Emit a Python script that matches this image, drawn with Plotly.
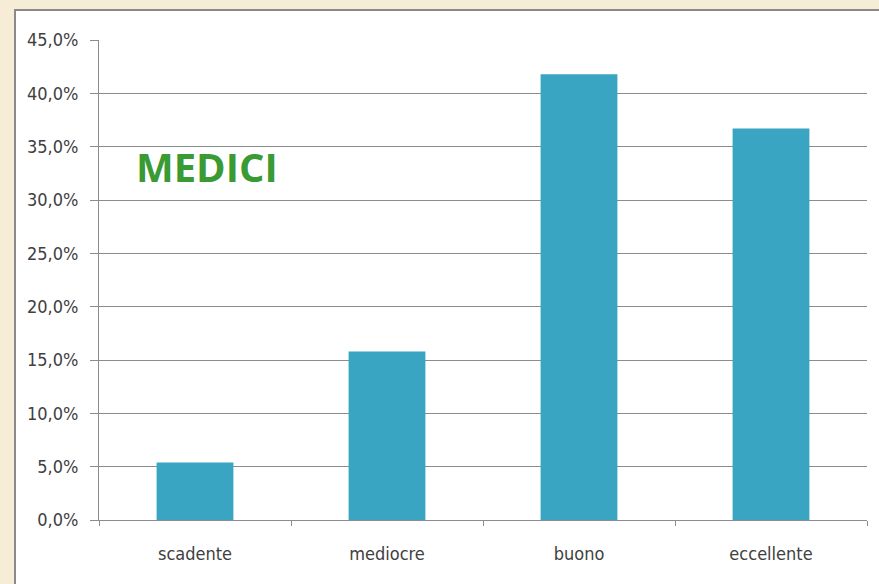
import plotly.graph_objects as go

categories = ["scadente", "mediocre", "buono", "eccellente"]
values = [0.054, 0.158, 0.418, 0.367]
y_ticks = [i * 0.05 for i in range(10)]

W, H = 879, 584
L, R, T, B = 99, 12, 40, 64
pw, ph = W - L - R, H - T - B

def px_x(p):
    return (p - L) / pw

def px_y(p):
    return (H - B - p) / ph

fig = go.Figure()
fig.add_trace(go.Bar(
    x=categories, y=values, width=0.4,
    marker=dict(color="#3aa4c3", line=dict(width=0)),
))

fig.update_layout(
    width=W, height=H,
    margin=dict(l=L, r=R, t=T, b=B, pad=0),
    paper_bgcolor="#f7ecd6",
    plot_bgcolor="rgba(0,0,0,0)",
    separators=",.",
    showlegend=False,
    font=dict(family="Liberation Sans Narrow, DejaVu Sans Condensed, sans-serif", size=18, color="#404040"),
    shapes=[dict(type="rect", xref="paper", yref="paper",
                 x0=px_x(15), x1=px_x(885), y0=px_y(590), y1=px_y(10),
                 fillcolor="white", line=dict(color="#8a8a8a", width=2), layer="below")],
    annotations=[dict(text="<b>MEDICI</b>", xref="paper", yref="paper",
                      x=px_x(207), y=px_y(167), xanchor="center", yanchor="middle",
                      showarrow=False,
                      font=dict(family="Open Sans, sans-serif", size=40, color="#3a9a34"))],
)
fig.update_yaxes(range=[0, 0.45], tickvals=y_ticks, tickformat=".1%",
                 showgrid=True, gridcolor="#8c8c8c", gridwidth=1,
                 showline=True, linecolor="#8c8c8c", linewidth=1,
                 ticks="outside", ticklen=8, tickcolor="#8c8c8c", zeroline=False,
                 ticklabelstandoff=8)
fig.update_xaxes(showline=True, linecolor="#8c8c8c", linewidth=1,
                 ticks="outside", tickson="boundaries", ticklen=5, tickcolor="#8c8c8c",
                 showgrid=False, range=[-0.5, 3.5], ticklabelstandoff=17)

fig.write_html("out.html", config={"displayModeBar": False},
               post_script="document.body.style.margin='0';document.body.style.overflow='hidden';document.body.style.background='#f7ecd6';")
